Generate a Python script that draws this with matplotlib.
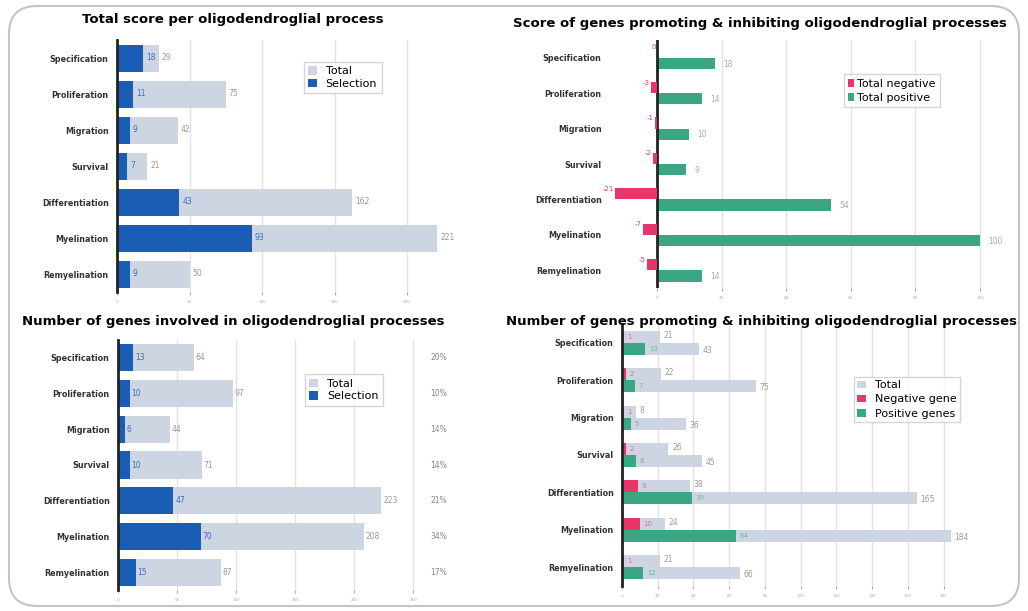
import numpy as np
import matplotlib
matplotlib.use("Agg")
import matplotlib.pyplot as plt
from matplotlib.patches import FancyBboxPatch

W, H = 1028, 611

processes = ["Specification", "Proliferation", "Migration", "Survival",
             "Differentiation", "Myelination", "Remyelination"]

# panel A: total score per process
score_total = [29, 75, 42, 21, 162, 221, 50]
score_selection = [18, 11, 9, 7, 43, 93, 9]

# panel B: score of promoting / inhibiting genes
score_negative = [0, -3, -1, -2, -21, -7, -5]
score_positive = [18, 14, 10, 9, 54, 100, 14]

# panel C: number of genes per process
genes_total = [64, 97, 44, 71, 223, 208, 87]
genes_selection = [13, 10, 6, 10, 47, 70, 15]
genes_pct = ["20%", "10%", "14%", "14%", "21%", "34%", "17%"]

# panel D: number of promoting / inhibiting genes
neg_total = [21, 22, 8, 26, 38, 24, 21]
neg_genes = [1, 2, 1, 2, 9, 10, 1]
pos_total = [43, 75, 36, 45, 165, 184, 66]
pos_genes = [13, 7, 5, 8, 39, 64, 12]

C_TOTAL = '#cdd5e3'
C_SEL = '#1a5db5'
C_NEG = '#e8366b'
C_POS = '#3aa683'
C_GRID = '#e2e2e2'
TITLE_FS = 9.5
LEG_FS = 8


def rect(l, t, r, b):
    return [l / W, 1 - b / H, (r - l) / W, (b - t) / H]


def style_axes(ax, xticks):
    ax.set_xticks(xticks)
    ax.set_yticks(np.arange(len(processes)))
    ax.set_yticklabels(processes, fontsize=5.8, fontweight='bold', color='#333333')
    ax.set_ylim(len(processes) - 0.5, -0.5)
    ax.grid(axis='x', color=C_GRID, linewidth=1.0)
    ax.set_axisbelow(True)
    for s in ['top', 'right', 'bottom']:
        ax.spines[s].set_visible(False)
    ax.tick_params(axis='x', labelsize=3, colors='#aaaaaa', length=2)
    ax.tick_params(axis='y', length=0, pad=6)


fig = plt.figure(figsize=(W / 100, H / 100), dpi=100)

# outer rounded frame
fig.patches.append(FancyBboxPatch((9, 5), 1010, 600, boxstyle="round,pad=0,rounding_size=28",
                                  transform=None, facecolor='none', edgecolor='#c4c4c4',
                                  linewidth=1.5))

y = np.arange(len(processes))

# ---------------- panel A ----------------
ax1 = fig.add_axes(rect(117, 40, 465, 292))
ax1.barh(y, score_total, height=0.75, color=C_TOTAL, label='Total')
ax1.barh(y, score_selection, height=0.75, color=C_SEL, label='Selection')
for i in range(len(processes)):
    ax1.text(score_selection[i] + 2, y[i], str(score_selection[i]), fontsize=5.5,
             color='#3a6ec0', va='center')
    ax1.text(score_total[i] + 2, y[i], str(score_total[i]), fontsize=5.5,
             color='#999999', va='center')
ax1.set_xlim(0, 240)
style_axes(ax1, np.arange(0, 201, 50))
ax1.spines['left'].set_linewidth(2)
ax1.spines['left'].set_color('#222222')
ax1.legend(loc='upper left', bbox_to_anchor=(0.52, 0.935), fontsize=LEG_FS, handlelength=0.8,
           handleheight=0.8, borderpad=0.4, labelspacing=0.2, fancybox=False,
           edgecolor='#cccccc')
fig.text(233 / W, 1 - 20 / H, "Total score per oligodendroglial process", fontsize=TITLE_FS,
         fontweight='bold', ha='center', va='center')

# ---------------- panel B ----------------
ax2 = fig.add_axes(rect(610, 40, 1000, 288))
px = 3.23
ax2.set_xlim(-(657 - 610) / px, (1000 - 657) / px)
ax2.barh(y + 0.16, score_positive, height=0.32, color=C_POS, label='Total positive')
style_axes(ax2, np.arange(0, 101, 20))
ax2.spines['left'].set_visible(False)
ax2.axvline(0, color='#222222', linewidth=2)
# negative scores are drawn on their own, compressed scale
ax2n = ax2.twiny()
pxn = 2.0
ax2n.set_xlim(-(657 - 610) / pxn, (1000 - 657) / pxn)
ax2n.barh(y - 0.16, score_negative, height=0.32, color=C_NEG, label='Total negative')
ax2n.set_ylim(len(processes) - 0.5, -0.5)
ax2n.set_xticks([])
for s in ax2n.spines.values():
    s.set_visible(False)
for i in range(len(processes)):
    ax2n.text(score_negative[i] - 0.5, y[i] - 0.3, str(score_negative[i]), fontsize=5,
              color=C_NEG, ha='right', va='center')
    ax2.text(score_positive[i] + 2.5, y[i] + 0.18, str(score_positive[i]), fontsize=5.5,
             color='#a0b0a8', va='center')
h1, l1 = ax2n.get_legend_handles_labels()
h2, l2 = ax2.get_legend_handles_labels()
ax2.legend(h1 + h2, l1 + l2, loc='upper left', bbox_to_anchor=(0.585, 0.885), fontsize=LEG_FS,
           handlelength=0.5, handleheight=0.7, handletextpad=0.3, borderpad=0.4,
           labelspacing=0.4, fancybox=False, edgecolor='#cccccc')
fig.text(760 / W, 1 - 24 / H, "Score of genes promoting & inhibiting oligodendroglial processes",
         fontsize=TITLE_FS, fontweight='bold', ha='center', va='center')

# ---------------- panel C ----------------
ax3 = fig.add_axes(rect(118, 340, 425, 590))
ax3.barh(y, genes_total, height=0.76, color=C_TOTAL, label='Total')
ax3.barh(y, genes_selection, height=0.76, color=C_SEL, label='Selection')
for i in range(len(processes)):
    ax3.text(genes_selection[i] + 1.5, y[i], str(genes_selection[i]), fontsize=5.5,
             color='#3a6ec0', va='center')
    ax3.text(genes_total[i] + 1.5, y[i], str(genes_total[i]), fontsize=5.5,
             color='#999999', va='center')
    ax3.text(1.017, y[i], genes_pct[i], fontsize=5.5, color='#888888', va='center',
             transform=ax3.get_yaxis_transform())
ax3.set_xlim(0, 260)
style_axes(ax3, np.arange(0, 251, 50))
ax3.spines['left'].set_linewidth(2)
ax3.spines['left'].set_color('#222222')
ax3.legend(loc='upper left', bbox_to_anchor=(0.59, 0.885), fontsize=LEG_FS, handlelength=0.8,
           handleheight=0.8, borderpad=0.4, labelspacing=0.2, fancybox=False,
           edgecolor='#cccccc')
fig.text(233 / W, 1 - 322 / H, "Number of genes involved in oligodendroglial processes",
         fontsize=TITLE_FS, fontweight='bold', ha='center', va='center')

# ---------------- panel D ----------------
ax4 = fig.add_axes(rect(622, 324, 965, 586))
bh = 0.32
ax4.barh(y - 0.16, neg_total, height=bh, color=C_TOTAL, label='Total')
ax4.barh(y + 0.16, pos_total, height=bh, color=C_TOTAL)
ax4.barh(y - 0.16, neg_genes, height=bh, color=C_NEG, label='Negative gene')
ax4.barh(y + 0.16, pos_genes, height=bh, color=C_POS, label='Positive genes')
for i in range(len(processes)):
    ax4.text(neg_genes[i] + 2, y[i] - 0.16, str(neg_genes[i]), fontsize=5, color='#d07090',
             va='center')
    ax4.text(neg_total[i] + 2, y[i] - 0.2, str(neg_total[i]), fontsize=5.5, color='#999999',
             va='center')
    ax4.text(pos_genes[i] + 2, y[i] + 0.16, str(pos_genes[i]), fontsize=5, color='#6ab89c',
             va='center')
    ax4.text(pos_total[i] + 2, y[i] + 0.2, str(pos_total[i]), fontsize=5.5, color='#999999',
             va='center')
ax4.set_xlim(0, 192)
style_axes(ax4, np.arange(0, 181, 20))
ax4.spines['left'].set_linewidth(2)
ax4.spines['left'].set_color('#222222')
ax4.legend(loc='upper left', bbox_to_anchor=(0.66, 0.82), fontsize=LEG_FS, handlelength=0.8,
           handleheight=0.6, borderpad=0.3, labelspacing=0.4, fancybox=False,
           edgecolor='#cccccc')
fig.text(762 / W, 1 - 322 / H, "Number of genes promoting & inhibiting oligodendroglial processes",
         fontsize=TITLE_FS, fontweight='bold', ha='center', va='center')

fig.savefig("out.png", dpi=100)
